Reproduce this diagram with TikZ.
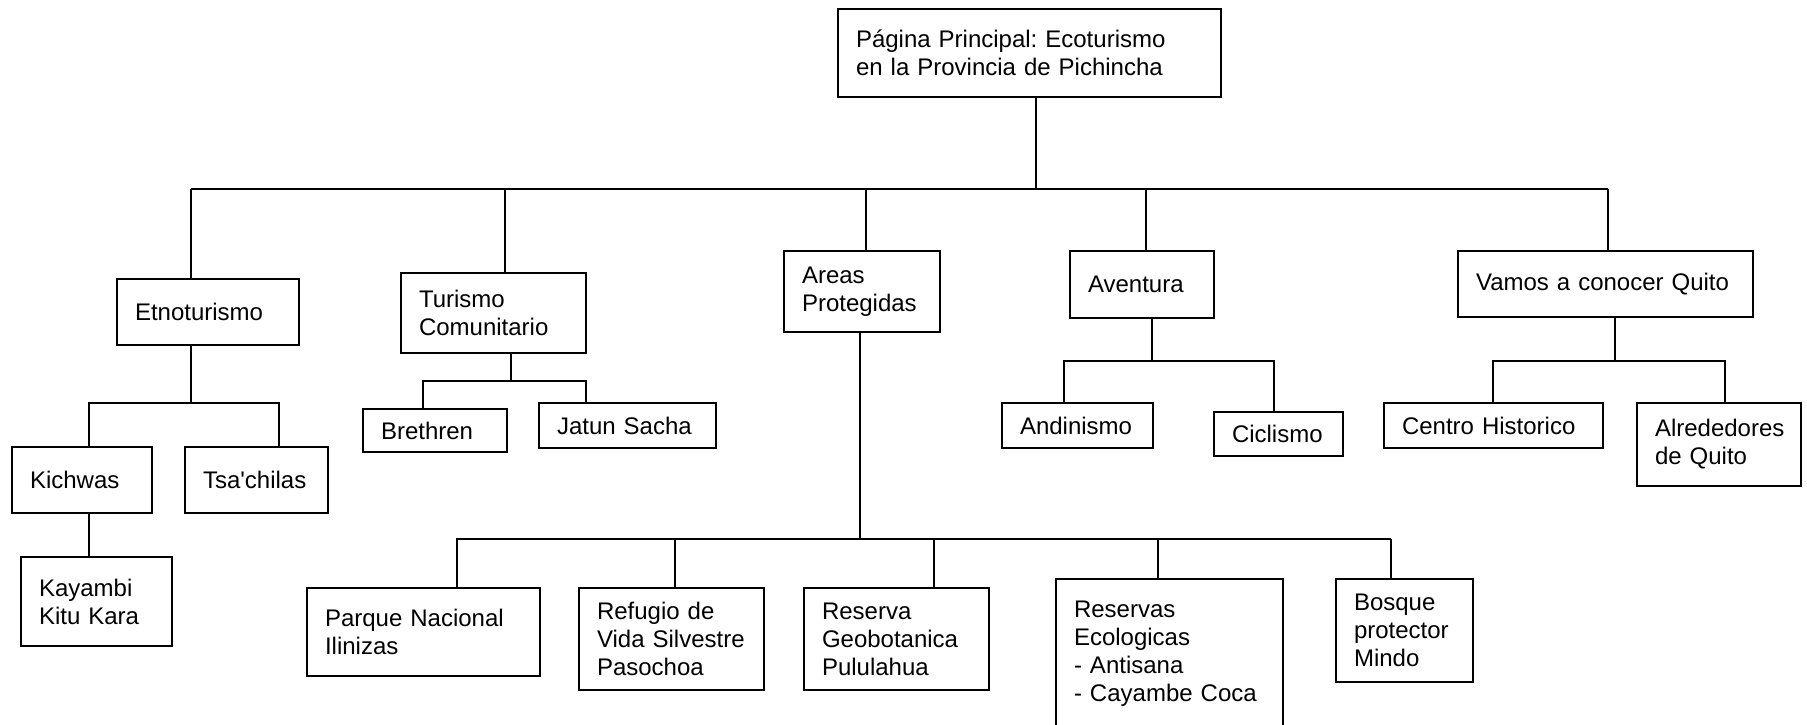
\documentclass[tikz,border=0pt]{standalone}
\usepackage{fontspec}
\setmainfont{Liberation Sans}
\hyphenpenalty=10000
\frenchspacing

\begin{document}
\begin{tikzpicture}[x=1pt,y=-1pt,line width=1.5pt,
  box/.style 2 args={draw,anchor=north west,outer sep=0pt,inner xsep=18pt,inner ysep=0pt,
    text width=#1pt,minimum height=#2pt,align=left,font=\fontsize{24}{28}\selectfont}]
\useasboundingbox (0,0) rectangle (1807,724);
\clip (0,0) rectangle (1807,724);

% main page
\node[box={347}{88}] (top) at (838,9) {Página Principal: Ecoturismo\\en la Provincia de Pichincha};

% first level
\node[box={146}{66}] (etno) at (117,279) {Etnoturismo};
\node[box={149}{80}] (turismo) at (401,273) {Turismo\\Comunitario};
\node[box={120}{81}] (areas) at (784,251) {Areas\\Protegidas};
\node[box={108}{67}] (aventura) at (1070,251) {Aventura};
\node[box={259}{66}] (vamos) at (1458,251) {Vamos a conocer Quito};

% second level
\node[box={104}{66}] (kichwas) at (12,447) {Kichwas};
\node[box={107}{66}] (tsachilas) at (185,447) {Tsa\textquotesingle chilas};
\node[box={115}{89}] (kayambi) at (21,557) {Kayambi\\Kitu Kara};
\node[box={108}{43}] (brethren) at (363,409) {Brethren};
\node[box={141}{45}] (jatun) at (539,403) {Jatun Sacha};
\node[box={115}{45}] (andinismo) at (1002,403) {Andinismo};
\node[box={93}{44}] (ciclismo) at (1214,412) {Ciclismo};
\node[box={183}{45}] (centro) at (1384,403) {Centro Historico};
\node[box={128}{83}] (alrededores) at (1637,403) {Alrededores\\de Quito};

% protected areas
\node[box={197}{88}] (parque) at (307,588) {Parque Nacional\\Ilinizas};
\node[box={149}{102}] (refugio) at (579,588) {Refugio de\\Vida~Silvestre\\Pasochoa};
\node[box={149}{102}] (reserva) at (804,588) {Reserva\\Geobotanica\\Pululahua};
\node[box={191}{150}] (ecol) at (1056,579) {Reservas\\Ecologicas\\- Antisana\\- Cayambe Coca};
\node[box={101}{103}] (bosque) at (1336,579) {Bosque\\protector\\Mindo};

% main line
\draw (top.south -| 1036,0) -- (1036,189);
\draw (191,189) -- (1608,189);
\foreach \x/\n in {191/etno,505/turismo,866/areas,1146/aventura,1608/vamos}
  \draw (\x,189) -- (\n.north -| \x,0);

% Etnoturismo
\draw (etno.south -| 191,0) -- (191,403);
\draw (kichwas.north -| 89,0) |- (191,403) -| (tsachilas.north -| 279,0);
\draw (kichwas.south -| 89,0) -- (kayambi.north -| 89,0);

% Turismo Comunitario
\draw (turismo.south -| 511,0) -- (511,381);
\draw (brethren.north -| 423,0) |- (511,381) -| (jatun.north -| 586,0);

% Areas Protegidas
\draw (areas.south -| 860,0) -- (860,539);
\draw (456,539) -- (1391,539);
\foreach \x/\n in {457/parque,675/refugio,934/reserva,1158/ecol,1391/bosque}
  \draw (\x,539) -- (\n.north -| \x,0);

% Aventura
\draw (aventura.south -| 1152,0) -- (1152,361);
\draw (andinismo.north -| 1064,0) |- (1152,361) -| (ciclismo.north -| 1274,0);

% Vamos a conocer Quito
\draw (vamos.south -| 1615,0) -- (1615,361);
\draw (centro.north -| 1493,0) |- (1615,361) -| (alrededores.north -| 1725,0);
\end{tikzpicture}
\end{document}
